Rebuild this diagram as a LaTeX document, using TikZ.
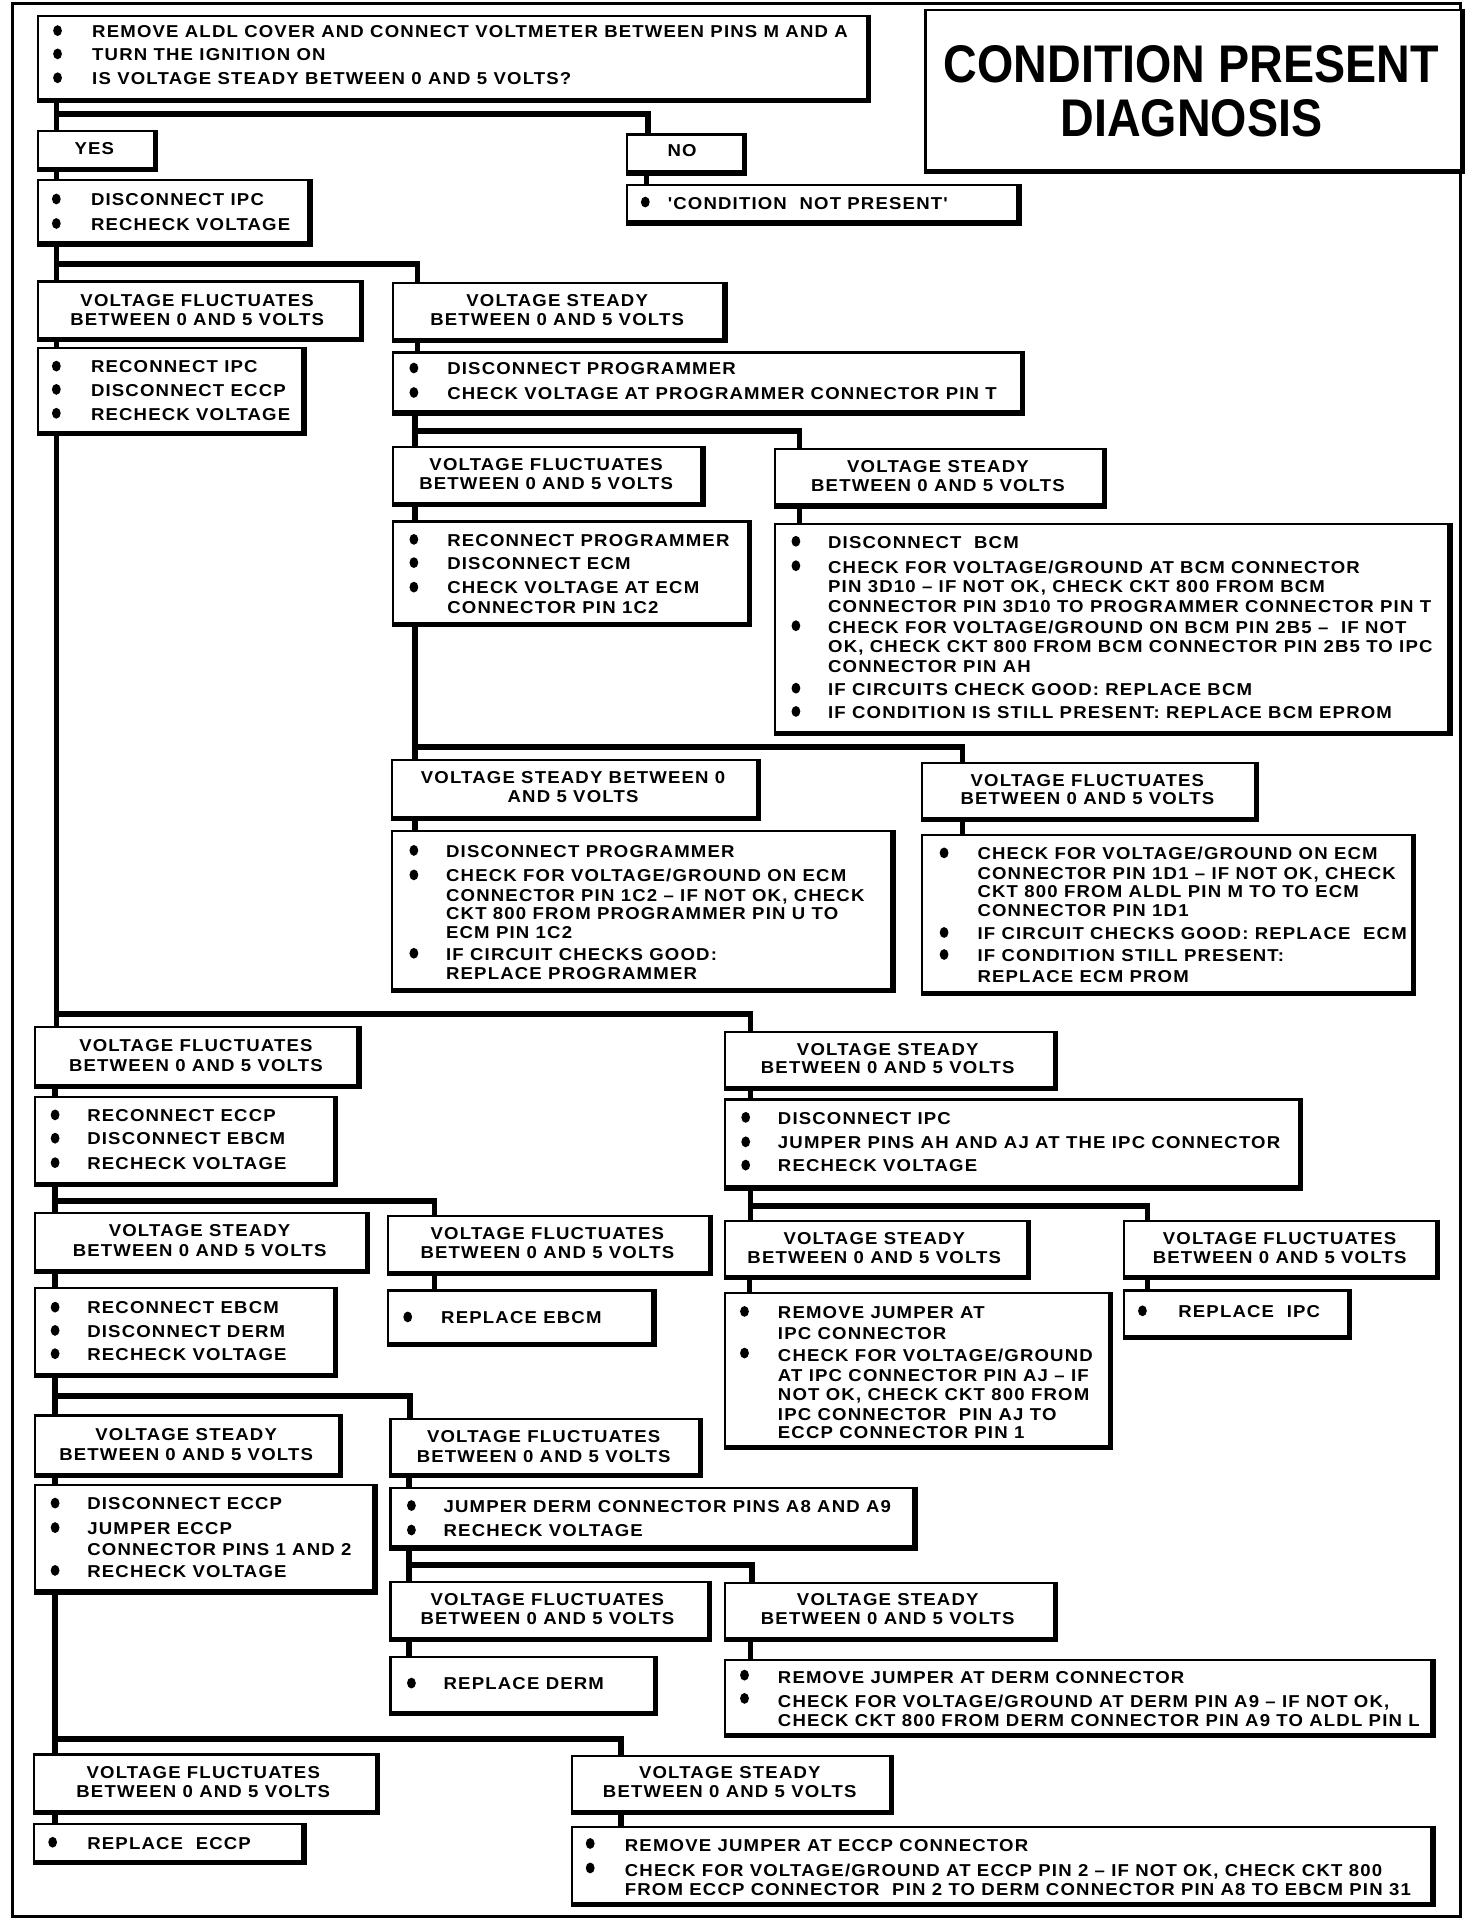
\documentclass[tikz,border=0pt]{standalone}
\usepackage{fontspec}
\newfontfamily\mfont{Liberation Sans}[FakeStretch=1.08,LetterSpace=6.8]
\newfontfamily\tfont{Liberation Sans}[FakeStretch=0.88]
\usetikzlibrary{shapes.geometric}
\newcommand\ux{0.6123pt}
\newcounter{tn}
\newcommand\txl[3]{\stepcounter{tn}\node[tx,anchor=west] (t\arabic{tn}) at (#1,#2) {#3};}
\newcommand\txc[3]{\stepcounter{tn}\node[tx,anchor=center] (t\arabic{tn}) at (#1,#2) {#3};}
\newcommand\bult[2]{\stepcounter{tn}\node[bulst] (b\arabic{tn}) at (#1,#2) {};}
\newcommand\boxat[5]{\node[boxst,anchor=north west,minimum width={(#4-#2)*0.6123pt},minimum height={(#5-#3)*0.6123pt}] (#1) at (#2,#3) {};
\draw[line width=2.1pt] ([xshift=0.5pt]#1.north east) -- ([xshift=0.5pt,yshift=-0.5pt]#1.south east) -- ([yshift=-0.5pt]#1.south west);}
\newcommand\head[5]{\txc{#1}{#2}{#4}\txc{#1}{#3}{#5}}
\begin{document}
\begin{tikzpicture}[x=\ux,y=-\ux,
  tx/.style={font=\mfont\bfseries\fontsize{8.6}{10}\selectfont,inner sep=0pt,text height=6.2pt,text depth=0pt},
  ttl/.style={font=\tfont\bfseries\fontsize{26.5}{28}\selectfont,inner sep=0pt,text height=19pt,text depth=0pt},
  bulst/.style={ellipse,fill=black,inner sep=0pt,minimum width=4.4pt,minimum height=5.4pt},
  boxst/.style={draw,line width=1.1pt,fill=white,inner sep=0pt},
  conn/.style={line width=2.8pt}]
\useasboundingbox (0,0) rectangle (1202,1568);
\draw[line width=1.4pt] (10,3) rectangle (1193,1565);

% ---------- boxes ----------
\boxat{top}{30}{12}{707}{80}
\boxat{title}{755}{7}{1192}{138}
\boxat{yes}{30}{106}{125}{136}
\boxat{no}{511}{109}{606}{139}
\boxat{cnp}{511}{150}{830}{180}
\boxat{d1}{30}{146}{251}{197}
\boxat{vf1}{30}{229}{293}{275}
\boxat{vs1}{320}{230}{590}{276}
\boxat{r1}{30}{283}{246}{352}
\boxat{dp}{320}{287}{833}{335}
\boxat{vf2}{320}{364}{572}{410}
\boxat{vs2}{632}{366}{900}{411}
\boxat{rp}{320}{425}{610}{508}
\boxat{db}{632}{427}{1182}{597}
\boxat{vs3}{319}{620}{617}{666}
\boxat{vf3}{752}{622}{1024}{667}
\boxat{dp2}{319}{678}{727}{807}
\boxat{ce}{752}{681}{1152}{809}
\boxat{vf4}{28}{838}{291}{885}
\boxat{vs4}{591}{842}{860}{887}
\boxat{re}{28}{895}{272}{965}
\boxat{di}{591}{897}{1060}{968}
\boxat{vs5}{28}{990}{298}{1036}
\boxat{vf5}{316}{992}{578}{1038}
\boxat{reb}{28}{1051}{272}{1121}
\boxat{rebcm}{316}{1053}{532}{1096}
\boxat{vs6}{591}{996}{838}{1041}
\boxat{vf6}{917}{996}{1172}{1041}
\boxat{rj}{591}{1055}{905}{1180}
\boxat{ripc}{917}{1053}{1100}{1090}
\boxat{vs7}{28}{1155}{276}{1203}
\boxat{vf7}{318}{1158}{570}{1203}
\boxat{dec}{28}{1212}{304}{1298}
\boxat{jd}{318}{1214}{745}{1262}
\boxat{vf8}{318}{1291}{577}{1337}
\boxat{vs8}{591}{1292}{860}{1337}
\boxat{rd}{318}{1352}{533}{1397}
\boxat{rjd}{591}{1355}{1168}{1415}
\boxat{vf9}{27}{1432}{306}{1478}
\boxat{vs9}{466}{1433}{726}{1478}
\boxat{recc}{27}{1489}{246}{1519}
\boxat{rje}{466}{1491}{1168}{1553}

% ---------- connectors ----------
\coordinate (j0) at (46,93);
\draw[conn] (46,0 |- top.south) -- (46,0 |- yes.north);
\draw[conn] (j0) -| (529,0 |- no.north);
\draw[conn] (528,0 |- no.south) -- (528,0 |- cnp.north);
\draw[conn] (46,0 |- yes.south) -- (46,0 |- d1.north);
\coordinate (j1) at (46,215.5);
\draw[conn] (46,0 |- d1.south) -- (46,0 |- vf1.north);
\draw[conn] (j1) -| (341,0 |- vs1.north);
\draw[conn] (46,0 |- vf1.south) -- (46,0 |- r1.north);
\draw[conn] (341,0 |- vs1.south) -- (341,0 |- dp.north);
\coordinate (j2) at (339,352);
\draw[conn] (339,0 |- dp.south) -- (339,0 |- vf2.north);
\draw[conn] (j2) -| (653,0 |- vs2.north);
\draw[conn] (339,0 |- vf2.south) -- (339,0 |- rp.north);
\draw[conn] (653,0 |- vs2.south) -- (653,0 |- db.north);
\coordinate (j3) at (339,610);
\draw[conn] (339,0 |- rp.south) -- (339,0 |- vs3.north);
\draw[conn] (j3) -| (786,0 |- vf3.north);
\draw[conn] (339,0 |- vs3.south) -- (339,0 |- dp2.north);
\draw[conn] (786,0 |- vf3.south) -- (786,0 |- ce.north);
\coordinate (j4) at (45,828);
\draw[conn] (46,0 |- r1.south) -- (46,0 |- vf4.north);
\draw[conn] (j4) -| (613,0 |- vs4.north);
\draw[conn] (45,0 |- vf4.south) -- (45,0 |- re.north);
\draw[conn] (613,0 |- vs4.south) -- (613,0 |- di.north);
\coordinate (j5) at (45,981);
\draw[conn] (45,0 |- re.south) -- (45,0 |- vs5.north);
\draw[conn] (j5) -| (355,0 |- vf5.north);
\draw[conn] (45,0 |- vs5.south) -- (45,0 |- reb.north);
\draw[conn] (355,0 |- vf5.south) -- (355,0 |- rebcm.north);
\coordinate (j6) at (613,985);
\draw[conn] (613,0 |- di.south) -- (613,0 |- vs6.north);
\draw[conn] (j6) -| (937,0 |- vf6.north);
\draw[conn] (612,0 |- vs6.south) -- (612,0 |- rj.north);
\draw[conn] (937,0 |- vf6.south) -- (937,0 |- ripc.north);
\coordinate (j7) at (45,1140);
\draw[conn] (45,0 |- reb.south) -- (45,0 |- vs7.north);
\draw[conn] (j7) -| (335,0 |- vf7.north);
\draw[conn] (45,0 |- vs7.south) -- (45,0 |- dec.north);
\draw[conn] (334,0 |- vf7.south) -- (334,0 |- jd.north);
\coordinate (j8) at (334,1278);
\draw[conn] (334,0 |- jd.south) -- (334,0 |- vf8.north);
\draw[conn] (j8) -| (614,0 |- vs8.north);
\draw[conn] (334,0 |- vf8.south) -- (334,0 |- rd.north);
\draw[conn] (613,0 |- vs8.south) -- (613,0 |- rjd.north);
\coordinate (j9) at (45,1420);
\draw[conn] (45,0 |- dec.south) -- (45,0 |- vf9.north);
\draw[conn] (j9) -| (507,0 |- vs9.north);
\draw[conn] (45,0 |- vf9.south) -- (45,0 |- recc.north);
\draw[conn] (507,0 |- vs9.south) -- (507,0 |- rje.north);

% ---------- title ----------
\node[ttl] (ttl1) at (973,52) {CONDITION PRESENT};
\node[ttl] (ttl2) at (973,96) {DIAGNOSIS};

% ---------- texts ----------
\bult{47}{25}\txl{75}{25.5}{REMOVE ALDL COVER AND CONNECT VOLTMETER BETWEEN PINS M AND A}
\bult{47}{44}\txl{75}{44.5}{TURN THE IGNITION ON}
\bult{47}{63.5}\txl{75}{64}{IS VOLTAGE STEADY BETWEEN 0 AND 5 VOLTS?}
\txc{77}{121}{YES}
\txc{557}{123}{NO}
\bult{527}{165}\txl{545}{166}{'CONDITION\ \ NOT PRESENT'}
\bult{46}{162.5}\txl{74}{163}{DISCONNECT IPC}
\bult{46}{182.5}\txl{74}{183}{RECHECK VOLTAGE}
\head{161}{245}{261}{VOLTAGE FLUCTUATES}{BETWEEN 0 AND 5 VOLTS}
\head{455}{245}{261}{VOLTAGE STEADY}{BETWEEN 0 AND 5 VOLTS}
\bult{46}{299}\txl{74}{299.5}{RECONNECT IPC}
\bult{46}{318}\txl{74}{318.5}{DISCONNECT ECCP}
\bult{46}{337.5}\txl{74}{338}{RECHECK VOLTAGE}
\bult{338}{300.5}\txl{365}{301}{DISCONNECT PROGRAMMER}
\bult{338}{320.5}\txl{365}{321}{CHECK VOLTAGE AT PROGRAMMER CONNECTOR PIN T}
\head{446}{379}{395}{VOLTAGE FLUCTUATES}{BETWEEN 0 AND 5 VOLTS}
\head{766}{381}{396}{VOLTAGE STEADY}{BETWEEN 0 AND 5 VOLTS}
\bult{338}{440.5}\txl{365}{441}{RECONNECT PROGRAMMER}
\bult{338}{459.5}\txl{365}{460}{DISCONNECT ECM}
\bult{338}{479.5}\txl{365}{480}{CHECK VOLTAGE AT ECM}
\txl{365}{496}{CONNECTOR PIN 1C2}
\bult{650}{442}\txl{676}{443}{DISCONNECT\ \ BCM}
\bult{650}{462}\txl{676}{463.5}{CHECK FOR VOLTAGE/GROUND AT BCM CONNECTOR}
\txl{676}{479}{PIN 3D10 – IF NOT OK, CHECK CKT 800 FROM BCM}
\txl{676}{495}{CONNECTOR PIN 3D10 TO PROGRAMMER CONNECTOR PIN T}
\bult{650}{511}\txl{676}{512}{CHECK FOR VOLTAGE/GROUND ON BCM PIN 2B5 –\ \ IF NOT}
\txl{676}{528}{OK, CHECK CKT 800 FROM BCM CONNECTOR PIN 2B5 TO IPC}
\txl{676}{544}{CONNECTOR PIN AH}
\bult{650}{562}\txl{676}{563}{IF CIRCUITS CHECK GOOD: REPLACE BCM}
\bult{650}{581}\txl{676}{582}{IF CONDITION IS STILL PRESENT: REPLACE BCM EPROM}
\head{468}{635}{650}{VOLTAGE STEADY BETWEEN 0}{AND 5 VOLTS}
\head{888}{637}{652}{VOLTAGE FLUCTUATES}{BETWEEN 0 AND 5 VOLTS}
\bult{338}{694.5}\txl{364}{695}{DISCONNECT PROGRAMMER}
\bult{338}{714.5}\txl{364}{715}{CHECK FOR VOLTAGE/GROUND ON ECM}
\txl{364}{731}{CONNECTOR PIN 1C2 – IF NOT OK, CHECK}
\txl{364}{746}{CKT 800 FROM PROGRAMMER PIN U TO}
\txl{364}{761}{ECM PIN 1C2}
\bult{338}{778.5}\txl{364}{779}{IF CIRCUIT CHECKS GOOD:}
\txl{364}{795}{REPLACE PROGRAMMER}
\bult{771}{696.5}\txl{798}{697}{CHECK FOR VOLTAGE/GROUND ON ECM}
\txl{798}{713}{CONNECTOR PIN 1D1 – IF NOT OK, CHECK}
\txl{798}{728}{CKT 800 FROM ALDL PIN M TO TO ECM}
\txl{798}{743}{CONNECTOR PIN 1D1}
\bult{771}{761.5}\txl{798}{762}{IF CIRCUIT CHECKS GOOD: REPLACE\ \ ECM}
\bult{771}{779.5}\txl{798}{780}{IF CONDITION STILL PRESENT:}
\txl{798}{797}{REPLACE ECM PROM}
\head{160}{854}{870}{VOLTAGE FLUCTUATES}{BETWEEN 0 AND 5 VOLTS}
\head{725}{857}{872}{VOLTAGE STEADY}{BETWEEN 0 AND 5 VOLTS}
\bult{45}{910.5}\txl{71}{911}{RECONNECT ECCP}
\bult{45}{929.5}\txl{71}{930}{DISCONNECT EBCM}
\bult{45}{949.5}\txl{71}{950}{RECHECK VOLTAGE}
\bult{609}{912.5}\txl{635}{913}{DISCONNECT IPC}
\bult{609}{932.5}\txl{635}{933}{JUMPER PINS AH AND AJ AT THE IPC CONNECTOR}
\bult{609}{951.5}\txl{635}{952}{RECHECK VOLTAGE}
\head{163}{1005}{1021}{VOLTAGE STEADY}{BETWEEN 0 AND 5 VOLTS}
\head{447}{1007}{1023}{VOLTAGE FLUCTUATES}{BETWEEN 0 AND 5 VOLTS}
\head{714}{1011}{1027}{VOLTAGE STEADY}{BETWEEN 0 AND 5 VOLTS}
\head{1045}{1011}{1027}{VOLTAGE FLUCTUATES}{BETWEEN 0 AND 5 VOLTS}
\bult{45}{1067.5}\txl{71}{1068}{RECONNECT EBCM}
\bult{45}{1086.5}\txl{71}{1087}{DISCONNECT DERM}
\bult{45}{1105.5}\txl{71}{1106}{RECHECK VOLTAGE}
\bult{333}{1075.5}\txl{360}{1076}{REPLACE EBCM}
\bult{608}{1071}\txl{635}{1072}{REMOVE JUMPER AT}
\txl{635}{1089}{IPC CONNECTOR}
\bult{608}{1105}\txl{635}{1107}{CHECK FOR VOLTAGE/GROUND}
\txl{635}{1123}{AT IPC CONNECTOR PIN AJ – IF}
\txl{635}{1139}{NOT OK, CHECK CKT 800 FROM}
\txl{635}{1155}{IPC CONNECTOR\ \ PIN AJ TO}
\txl{635}{1170}{ECCP CONNECTOR PIN 1}
\bult{933}{1070.5}\txl{962}{1071}{REPLACE\ \ IPC}
\head{152}{1171}{1188}{VOLTAGE STEADY}{BETWEEN 0 AND 5 VOLTS}
\head{444}{1173}{1189}{VOLTAGE FLUCTUATES}{BETWEEN 0 AND 5 VOLTS}
\bult{45}{1227.5}\txl{71}{1228}{DISCONNECT ECCP}
\bult{45}{1247.5}\txl{71}{1248}{JUMPER ECCP}
\txl{71}{1265}{CONNECTOR PINS 1 AND 2}
\bult{45}{1282.5}\txl{71}{1283}{RECHECK VOLTAGE}
\bult{336}{1229.5}\txl{362}{1230}{JUMPER DERM CONNECTOR PINS A8 AND A9}
\bult{336}{1249.5}\txl{362}{1250}{RECHECK VOLTAGE}
\head{447}{1306}{1322}{VOLTAGE FLUCTUATES}{BETWEEN 0 AND 5 VOLTS}
\head{725}{1306}{1322}{VOLTAGE STEADY}{BETWEEN 0 AND 5 VOLTS}
\bult{336}{1374.5}\txl{362}{1375}{REPLACE DERM}
\bult{608}{1368}\txl{635}{1370}{REMOVE JUMPER AT DERM CONNECTOR}
\bult{608}{1387}\txl{635}{1389}{CHECK FOR VOLTAGE/GROUND AT DERM PIN A9 – IF NOT OK,}
\txl{635}{1405}{CHECK CKT 800 FROM DERM CONNECTOR PIN A9 TO ALDL PIN L}
\head{166}{1447}{1463}{VOLTAGE FLUCTUATES}{BETWEEN 0 AND 5 VOLTS}
\head{596}{1447}{1463}{VOLTAGE STEADY}{BETWEEN 0 AND 5 VOLTS}
\bult{43}{1504.5}\txl{71}{1505}{REPLACE\ \ ECCP}
\bult{482}{1505.5}\txl{510}{1507}{REMOVE JUMPER AT ECCP CONNECTOR}
\bult{482}{1525.5}\txl{510}{1527}{CHECK FOR VOLTAGE/GROUND AT ECCP PIN 2 – IF NOT OK, CHECK CKT 800}
\txl{510}{1543}{FROM ECCP CONNECTOR\ \ PIN 2 TO DERM CONNECTOR PIN A8 TO EBCM PIN 31}
\end{tikzpicture}
\end{document}
